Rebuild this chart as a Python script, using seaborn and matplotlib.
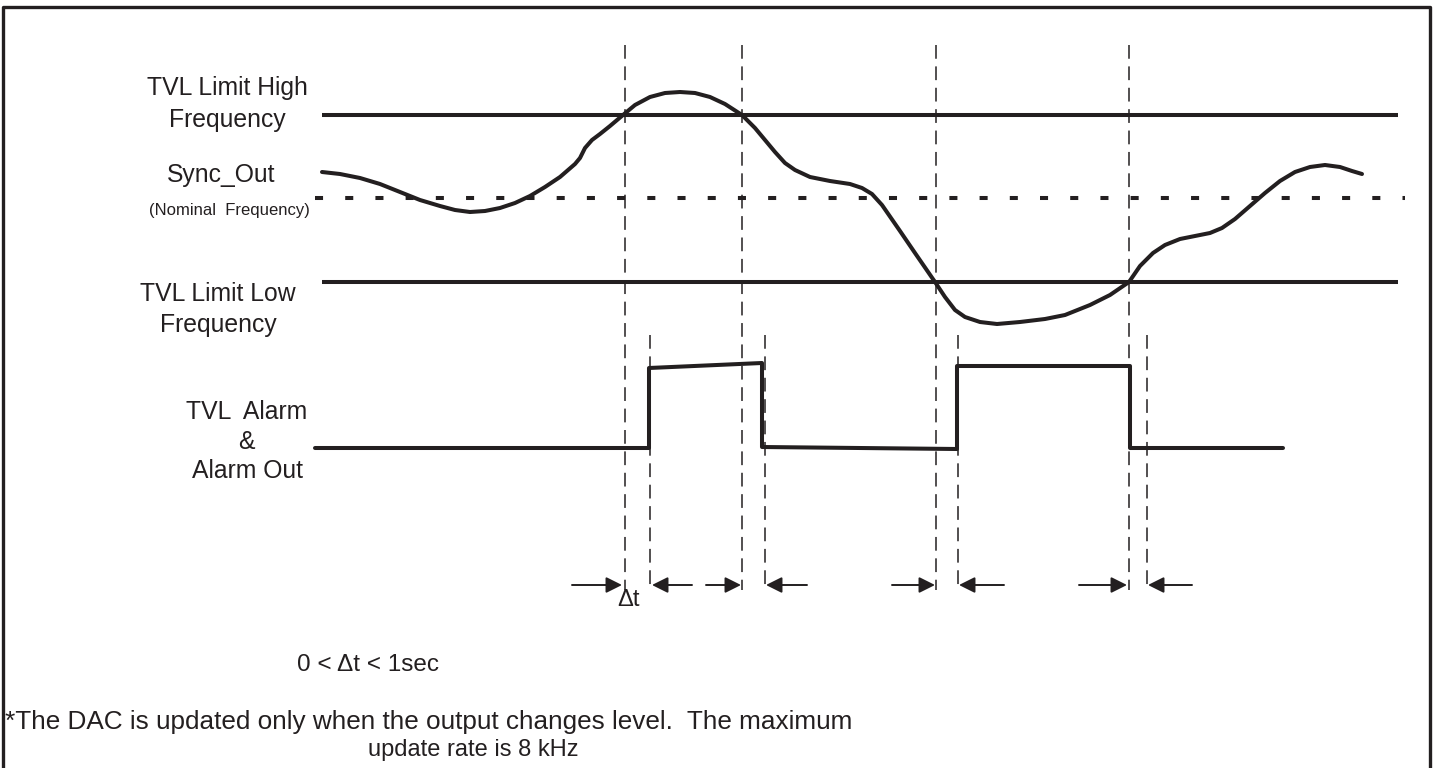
import matplotlib
matplotlib.use("Agg")
import matplotlib.pyplot as plt
import seaborn as sns
import pandas as pd

# === Timing diagram data (x = time position, y = drawing row, top = 0) ===
level_high = 115      # TVL limit high frequency
level_nominal = 198   # Sync_Out nominal frequency
level_low = 282       # TVL limit low frequency

# Sync_Out frequency trace
sync_t = [322, 340, 360, 380, 400, 420, 440, 455, 470, 485, 500, 515, 530, 545,
          560, 575, 580, 585, 592, 600, 610, 623, 635, 650, 665, 680, 695, 710,
          725, 742, 755, 765, 775, 785, 795, 810, 830, 850, 862, 872, 882, 900,
          915, 935, 945, 955, 965, 980, 997, 1020, 1045, 1065, 1090, 1110, 1129,
          1140, 1153, 1165, 1180, 1195, 1210, 1222, 1235, 1250, 1265, 1280, 1295,
          1310, 1325, 1340, 1352, 1362]
sync_f = [172, 174, 178, 184, 192, 200, 206, 210, 212, 211, 208, 203, 196, 187,
          177, 164, 158, 148, 140, 134, 126, 115, 105, 97, 93, 92, 93, 97,
          104, 115, 128, 140, 152, 163, 170, 177, 181, 184, 188, 194, 205, 231,
          253, 282, 297, 310, 317, 322, 324, 322, 319, 315, 305, 295, 282,
          266, 253, 245, 239, 236, 233, 228, 219, 206, 193, 181, 172,
          167, 165, 167, 171, 174]

# TVL Alarm & Alarm Out
alarm_t = [315, 649, 649, 762, 762, 957, 957, 1130, 1130, 1283]
alarm_v = [448, 448, 368, 363, 447, 449, 366, 366, 448, 448]

# guide lines: limit crossings (long) and alarm edges (short)
cross_t = [625, 742, 936, 1129]
edge_t = [650, 765, 958, 1147]
guide_top = 45
edge_top = 335
guide_bottom = 590

# delay arrows (tail, head)
arrow_tail = [572, 692, 706, 807, 892, 1004, 1079, 1192]
arrow_head = [622, 652, 741, 766, 935, 959, 1127, 1148]
arrow_row = 585

labels = [("TVL Limit High", 227, 88), ("Frequency", 227, 120),
          ("Sync_Out", 221, 175), ("TVL Limit Low", 218, 294),
          ("Frequency", 218, 325), ("TVL  Alarm", 247, 412),
          ("&", 246, 442), ("Alarm Out", 247, 471)]

sns.set_theme(style="white")
plt.rcParams['font.family'] = ['Liberation Sans', 'DejaVu Sans']

fig = plt.figure(figsize=(14.36, 7.68), dpi=100)
ax = fig.add_axes([0, 0, 1, 1])
ax.set_xlim(0, 1436)
ax.set_ylim(768, 0)
ax.axis('off')

ink = '#231f20'

# limit lines
ax.plot([322, 1398], [level_high, level_high], color=ink, lw=2.9, solid_capstyle='butt')
ax.plot([322, 1398], [level_low, level_low], color=ink, lw=2.9, solid_capstyle='butt')
ax.plot([315, 1405], [level_nominal, level_nominal], color=ink, lw=2.9,
        dashes=(2.0, 5.5), dash_capstyle='butt')

# frequency trace
sync = pd.DataFrame({'t': sync_t, 'f': sync_f})
sns.lineplot(data=sync, x='t', y='f', ax=ax, color=ink, lw=2.9,
             estimator=None, sort=False)

# alarm output
alarm = pd.DataFrame({'t': alarm_t, 'v': alarm_v})
sns.lineplot(data=alarm, x='t', y='v', ax=ax, color=ink, lw=2.9,
             estimator=None, sort=False)
for ln in ax.lines[-2:]:
    ln.set_solid_joinstyle('round')

# dashed guides
for t in cross_t:
    ax.plot([t, t], [guide_top, guide_bottom], color=ink, lw=1.1, dashes=(9, 5))
for t in edge_t:
    ax.plot([t, t], [edge_top, guide_bottom], color=ink, lw=1.1, dashes=(9, 5))

# delay arrows
for t0, t1 in zip(arrow_tail, arrow_head):
    ax.annotate('', xy=(t1, arrow_row), xytext=(t0, arrow_row),
                arrowprops=dict(arrowstyle='-|>', color=ink, lw=1.4,
                                mutation_scale=24, shrinkA=0, shrinkB=0))
ax.text(628, 600, 'Δt', fontsize=17, color=ink, ha='center', va='center')

# signal names
for txt, x, y in labels:
    ax.text(x, y, txt, fontsize=17.8, color=ink, ha='center', va='center')
ax.text(229, 211, '(Nominal  Frequency)', fontsize=12, color=ink, ha='center', va='center')

# notes
ax.text(297, 665, '0 < Δt < 1sec', fontsize=17.5, color=ink, ha='left', va='center')
ax.text(5, 722, '*The DAC is updated only when the output changes level.  The maximum',
        fontsize=18.8, color=ink, ha='left', va='center')
ax.text(368, 750, 'update rate is 8 kHz', fontsize=17, color=ink, ha='left', va='center')

# frame
ax.plot([3, 3, 1430, 1430], [768, 7, 7, 768], color=ink, lw=2.4, clip_on=False)

fig.savefig('out.png', dpi=100, facecolor='white')
